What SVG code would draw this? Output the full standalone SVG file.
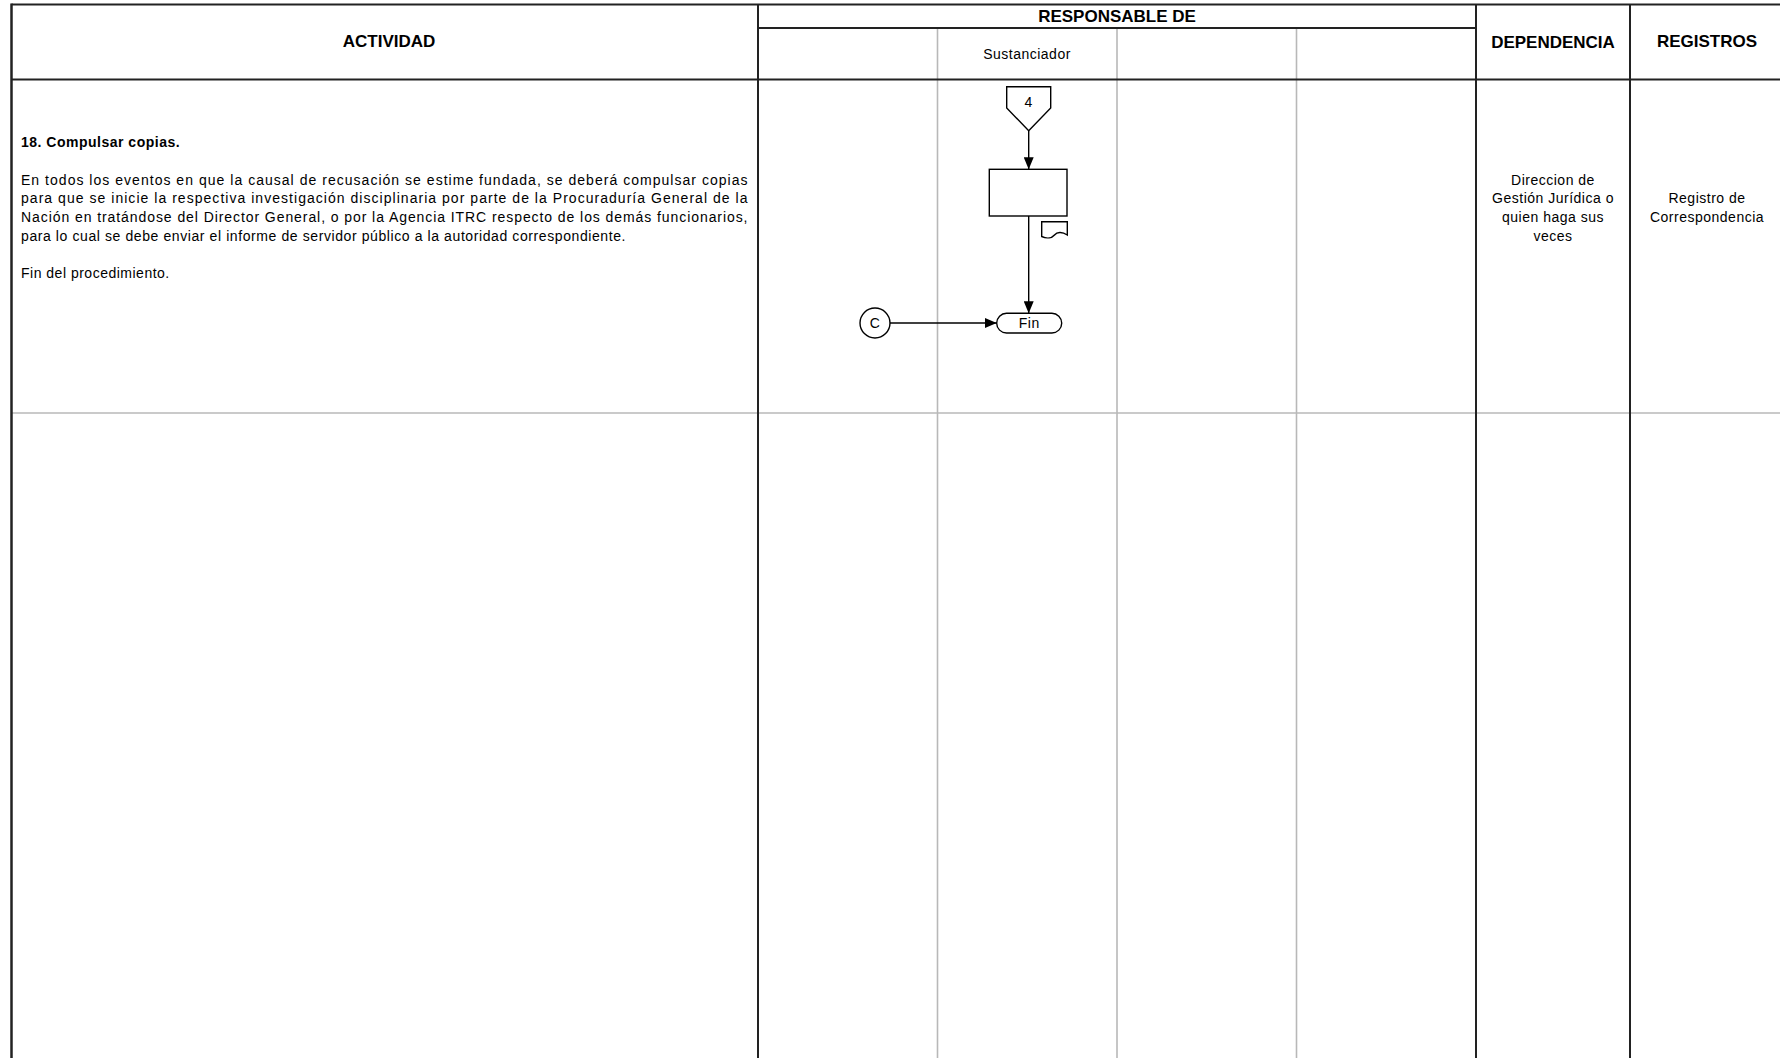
<svg xmlns="http://www.w3.org/2000/svg" width="1780" height="1058" viewBox="0 0 1780 1058">
<style>
.dark{stroke:#222;stroke-width:2;fill:none}
.gray{stroke:#b8b8b8;stroke-width:1.6;fill:none}
.hdr{font-family:"Liberation Sans",Arial,sans-serif;font-weight:bold;font-size:17px;fill:#000;text-anchor:middle}
.txt{font-family:"Liberation Sans",Arial,sans-serif;font-size:14px;fill:#000;letter-spacing:0.5px}
.ctr{text-anchor:middle}
.b{font-weight:bold}
.shape{stroke:#000;stroke-width:1.4;fill:#fff}
.conn{stroke:#000;stroke-width:1.4;fill:none}
</style>
<defs>
<marker id="arr" markerUnits="userSpaceOnUse" markerWidth="12" markerHeight="10" refX="12" refY="5" orient="auto">
<path d="M0,0 L12,5 L0,10 Z" fill="#000"/>
</marker>
</defs>
<rect width="1780" height="1058" fill="#fff"/>
<g id="table">
<line class="gray" x1="12" y1="413" x2="1780" y2="413"/>
<line class="gray" x1="937.5" y1="28" x2="937.5" y2="1058"/>
<line class="gray" x1="1117" y1="28" x2="1117" y2="1058"/>
<line class="gray" x1="1296.5" y1="28" x2="1296.5" y2="1058"/>
<line class="dark" x1="11.5" y1="4.5" x2="1780" y2="4.5"/>
<line class="dark" x1="11.5" y1="79.5" x2="1780" y2="79.5"/>
<line class="dark" x1="758" y1="28" x2="1476" y2="28"/>
<line class="dark" x1="11.5" y1="3.5" x2="11.5" y2="1058" style="stroke-width:2.5"/>
<line class="dark" x1="758" y1="4.5" x2="758" y2="1058"/>
<line class="dark" x1="1476" y1="4.5" x2="1476" y2="1058"/>
<line class="dark" x1="1630" y1="4.5" x2="1630" y2="1058"/>
<text class="hdr" x="389" y="47">ACTIVIDAD</text>
<text class="hdr" x="1117" y="22">RESPONSABLE DE</text>
<text class="hdr" x="1553" y="48">DEPENDENCIA</text>
<text class="hdr" x="1707" y="47">REGISTROS</text>
<text class="txt ctr" x="1027" y="59">Sustanciador</text>
</g>
<g id="activity">
<text class="txt b" x="21" y="147">18. Compulsar copias.</text>
<text class="txt" x="21" y="184.5" textLength="727" lengthAdjust="spacing">En todos los eventos en que la causal de recusación se estime fundada, se deberá compulsar copias</text>
<text class="txt" x="21" y="203.2" textLength="727" lengthAdjust="spacing">para que se inicie la respectiva investigación disciplinaria por parte de la Procuraduría General de la</text>
<text class="txt" x="21" y="222" textLength="727" lengthAdjust="spacing">Nación en tratándose del Director General, o por la Agencia ITRC respecto de los demás funcionarios,</text>
<text class="txt" x="21" y="240.7" textLength="605" lengthAdjust="spacing">para lo cual se debe enviar el informe de servidor público a la autoridad correspondiente.</text>
<text class="txt" x="21" y="278">Fin del procedimiento.</text>
</g>
<g id="dependencia">
<text class="txt ctr" x="1553" y="184.5">Direccion  de</text>
<text class="txt ctr" x="1553" y="203.2">Gestión Jurídica o</text>
<text class="txt ctr" x="1553" y="222">quien haga sus</text>
<text class="txt ctr" x="1553" y="240.7">veces</text>
</g>
<g id="registros">
<text class="txt ctr" x="1707" y="203.2">Registro de</text>
<text class="txt ctr" x="1707" y="222">Correspondencia</text>
</g>
<g id="connectors">
<line class="conn" x1="1028.7" y1="130.7" x2="1028.7" y2="169.3" marker-end="url(#arr)"/>
<line class="conn" x1="1028.7" y1="216" x2="1028.7" y2="313.3" marker-end="url(#arr)"/>
<line class="conn" x1="890" y1="323" x2="996.7" y2="323" marker-end="url(#arr)"/>
</g>
<g id="offpage-4">
<polygon class="shape" points="1006.7,86.7 1050.7,86.7 1050.7,108 1028.7,130.7 1006.7,108"/>
<text class="txt ctr" x="1028.7" y="107">4</text>
</g>
<g id="process">
<rect class="shape" x="989.3" y="169.3" width="77.7" height="46.7"/>
</g>
<g id="document">
<path class="shape" d="M1041.7,221.7 H1067.3 V235 C1062,231.5 1057,232 1054.5,235 C1052,238 1047,239 1041.7,236.5 Z"/>
</g>
<g id="fin">
<rect class="shape" x="996.7" y="313.3" width="65" height="19.7" rx="9.8" ry="9.8"/>
<text class="txt ctr" x="1029.2" y="328">Fin</text>
</g>
<g id="connector-C">
<circle class="shape" cx="875" cy="323" r="15"/>
<text class="txt ctr" x="875" y="328">C</text>
</g>
</svg>
